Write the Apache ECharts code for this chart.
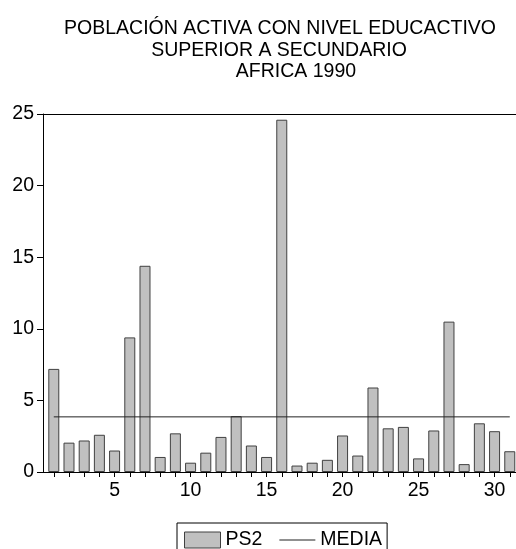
<!DOCTYPE html>
<html>
<head>
<meta charset="utf-8">
<script src="https://cdn.jsdelivr.net/npm/echarts@6/dist/echarts.min.js"></script>
<style>
  html, body { margin: 0; padding: 0; background: #fff; }
  #chart { width: 516px; height: 549px; }
</style>
</head>
<body>
<div id="chart"></div>
<script>
// observaciones (países) 1..31
const obs = [1, 2, 3, 4, 5, 6, 7, 8, 9, 10, 11, 12, 13, 14, 15, 16, 17, 18, 19, 20,
             21, 22, 23, 24, 25, 26, 27, 28, 29, 30, 31];
// PS2: población activa con nivel educativo superior a secundario (%)
const ps2 = [7.2, 2.05, 2.2, 2.6, 1.5, 9.4, 14.4, 1.05, 2.7, 0.65, 1.35, 2.45, 3.9, 1.85, 1.05,
             24.6, 0.45, 0.65, 0.85, 2.55, 1.15, 5.9, 3.05, 3.15, 0.95, 2.9, 10.5, 0.55, 3.4, 2.85, 1.45];
// media de la serie
const media = 3.85;
const xLabels = [5, 10, 15, 20, 25, 30];

const titleLines = [
  "POBLACIÓN ACTIVA CON NIVEL EDUCACTIVO",
  "SUPERIOR A SECUNDARIO",
  "AFRICA 1990"
];

const font = "Liberation Sans, Arial, sans-serif";
const fs = 19.5;
const chart = echarts.init(document.getElementById("chart"), null, { renderer: "canvas" });

const titleStyle = (text) => ({
  text: text,
  font: fs + "px " + font,
  fill: "#000",
  textAlign: "center",
  textVerticalAlign: "middle"
});

const option = {
  animation: false,
  backgroundColor: "#fff",
  graphic: [
    { type: "text", x: 280, y: 29, style: titleStyle(titleLines[0]) },
    { type: "text", x: 279, y: 50.5, style: titleStyle(titleLines[1]) },
    { type: "text", x: 296, y: 72, style: titleStyle(titleLines[2]) }
  ],
  legend: {
    left: 177,
    top: 523,
    padding: [7, 5, 10, 7],
    borderColor: "#000",
    borderWidth: 1,
    borderRadius: 0,
    itemWidth: 36,
    itemHeight: 16,
    itemGap: 17,
    textStyle: { fontSize: fs, fontFamily: font, color: "#000" },
    data: [
      { name: "PS2", icon: "rect", itemStyle: { color: "#c0c0c0", borderColor: "#404040", borderWidth: 1 } },
      { name: "MEDIA", icon: "path://M0,0 H35 V1 H0 Z", itemStyle: { color: "#222", borderWidth: 0 } }
    ]
  },
  grid: { left: 43, right: 0, top: 114, bottom: 77, containLabel: false },
  xAxis: [
    {
      type: "value",
      position: "bottom",
      min: 0.29,
      max: 31.41,
      splitLine: { show: false },
      axisLine: { show: true, onZero: false, lineStyle: { color: "#000", width: 1 } },
      axisTick: { show: true, inside: false, length: 5, customValues: obs, lineStyle: { color: "#000" } },
      axisLabel: { show: true, customValues: xLabels, margin: 9, fontSize: fs, fontFamily: font, color: "#000" }
    },
    {
      type: "value",
      position: "top",
      min: 0.29,
      max: 31.41,
      splitLine: { show: false },
      axisLine: { show: true, onZero: false, lineStyle: { color: "#000", width: 1 } },
      axisTick: { show: false },
      axisLabel: { show: false }
    }
  ],
  yAxis: {
    type: "value",
    min: 0,
    max: 25,
    interval: 5,
    splitLine: { show: false },
    axisLine: { show: true, lineStyle: { color: "#000", width: 1 } },
    axisTick: { show: true, inside: false, length: 6, lineStyle: { color: "#000" } },
    axisLabel: { margin: 9, fontSize: fs, fontFamily: font, color: "#000" }
  },
  series: [
    {
      name: "PS2",
      type: "bar",
      xAxisIndex: 0,
      barWidth: 11,
      itemStyle: { color: "#c0c0c0", borderColor: "#404040", borderWidth: 1 },
      data: obs.map((o, i) => [o, ps2[i]])
    },
    {
      name: "MEDIA",
      type: "line",
      xAxisIndex: 0,
      symbol: "none",
      color: "#222",
      lineStyle: { color: "#222", width: 1 },
      data: [[obs[0], media], [obs[obs.length - 1], media]]
    }
  ]
};

chart.setOption(option);
</script>
</body>
</html>
